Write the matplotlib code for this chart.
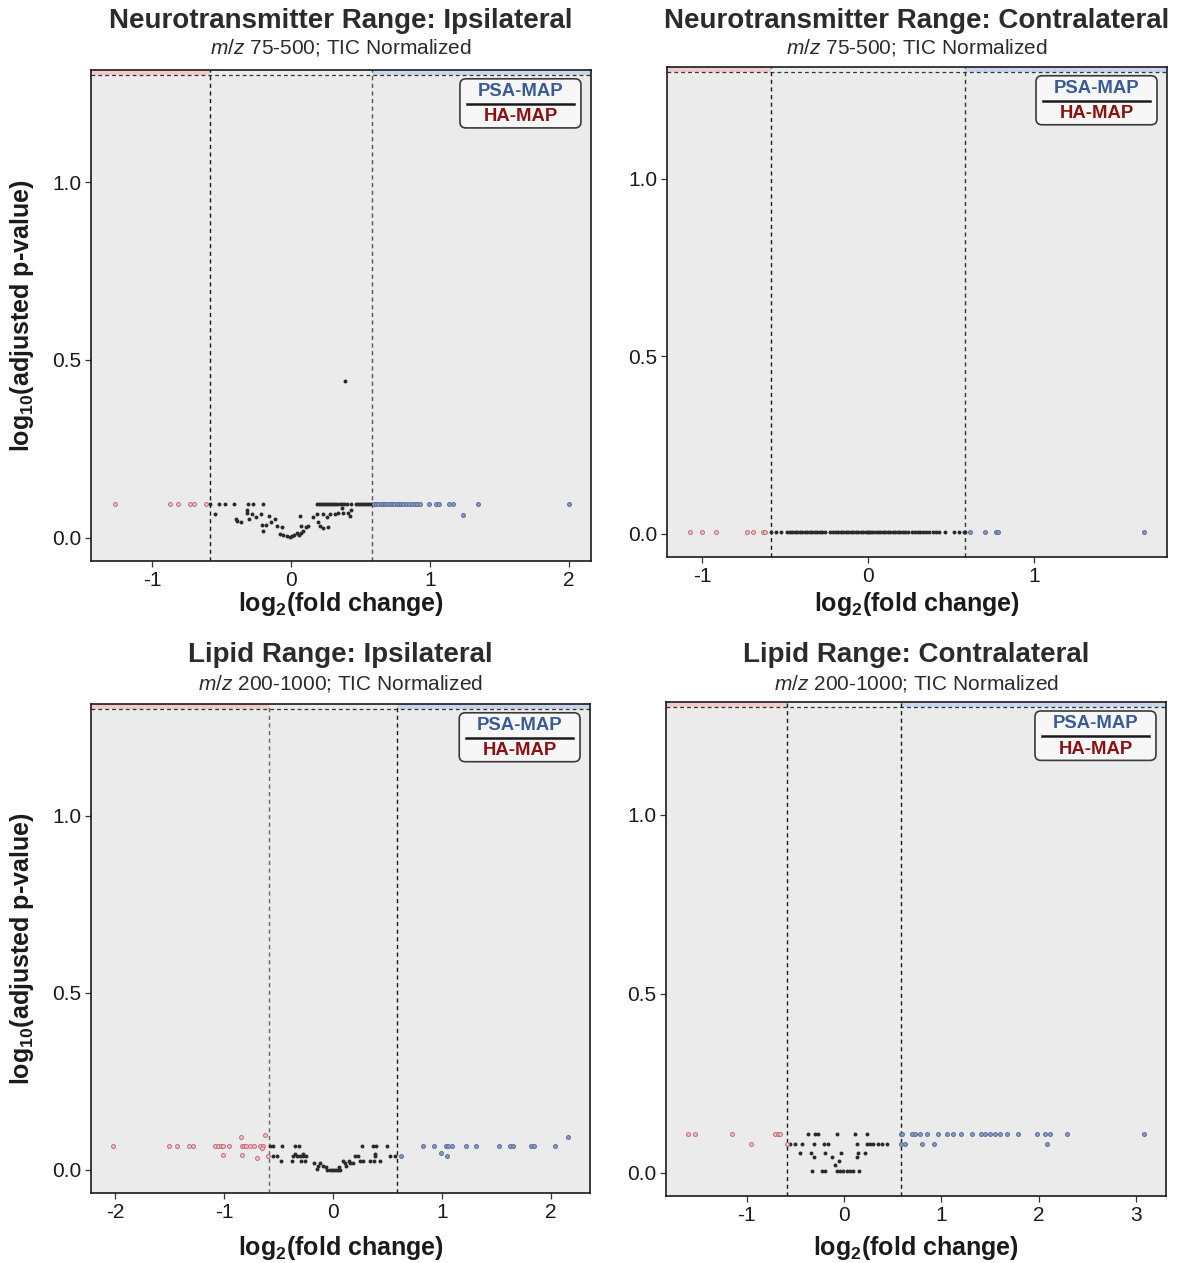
import matplotlib
matplotlib.use("Agg")
import matplotlib.pyplot as plt
import numpy as np
from matplotlib.patches import FancyBboxPatch, Rectangle

plt.rcParams["font.family"] = ["Liberation Sans", "DejaVu Sans"]
plt.rcParams["mathtext.fontset"] = "custom"
plt.rcParams["mathtext.rm"] = "Liberation Sans"
plt.rcParams["mathtext.it"] = "Liberation Sans:italic"
plt.rcParams["mathtext.bf"] = "Liberation Sans:bold"

# ---- data (log2 fold change, -log10 adjusted p) ----
titles = [
    "Neurotransmitter Range: Ipsilateral",
    "Neurotransmitter Range: Contralateral",
    "Lipid Range: Ipsilateral",
    "Lipid Range: Contralateral",
]
subtitles = [
    r"$\mathit{m/z}$ 75-500; TIC Normalized",
    r"$\mathit{m/z}$ 75-500; TIC Normalized",
    r"$\mathit{m/z}$ 200-1000; TIC Normalized",
    r"$\mathit{m/z}$ 200-1000; TIC Normalized",
]

# Neurotransmitter, ipsilateral
nt_ipsi_row_x = [
    -1.27, -0.87, -0.81, -0.73, -0.70, -0.61,
    -0.58, -0.52, -0.475, -0.41, -0.31, -0.27, -0.20,
    0.185, 0.20, 0.215, 0.23, 0.245, 0.26, 0.275, 0.29, 0.305, 0.32, 0.335,
    0.35, 0.365, 0.38, 0.40, 0.43, 0.465, 0.48, 0.495, 0.51, 0.525, 0.54,
    0.555, 0.57, 0.58,
    0.60, 0.615, 0.63, 0.645, 0.66, 0.675, 0.69, 0.71, 0.725, 0.74, 0.76,
    0.775, 0.79, 0.81, 0.83, 0.85, 0.87, 0.89, 0.91, 0.93,
    0.995, 1.045, 1.065, 1.14, 1.17, 1.35, 2.00,
]
nt_ipsi_row_y = 0.094
nt_ipsi_x = [
    -0.547, -0.396, -0.391, -0.360, -0.319, -0.314, -0.300, -0.283, -0.252,
    -0.218, -0.211, -0.199, -0.180, -0.156, -0.144, -0.115, -0.098, -0.079,
    -0.067, -0.055, -0.031, -0.007, 0.005, 0.022, 0.041, 0.060, 0.065, 0.070,
    0.072, 0.089, 0.108, 0.125, 0.156, 0.185, 0.197, 0.209, 0.228, 0.233,
    0.269, 0.261, 0.281, 0.317, 0.341, 0.365, 0.372, 0.412, 0.424, 0.429,
    0.388, 1.24,
]
nt_ipsi_y = [
    0.066, 0.052, 0.047, 0.046, 0.077, 0.069, 0.052, 0.066, 0.060,
    0.066, 0.037, 0.018, 0.037, 0.062, 0.046, 0.054, 0.034, 0.011,
    0.032, 0.008, 0.006, 0.002, 0.004, 0.008, 0.013, 0.008, 0.062, 0.015,
    0.034, 0.018, 0.030, 0.034, 0.058, 0.066, 0.046, 0.034, 0.027, 0.066,
    0.030, 0.060, 0.066, 0.066, 0.069, 0.083, 0.069, 0.069, 0.062, 0.077,
    0.441, 0.065,
]

# Neurotransmitter, contralateral (all on one row)
nt_contra_x = [
    -1.07, -1.00, -0.915, -0.73, -0.69, -0.635, -0.62,
    -0.583, -0.553, -0.527, -0.488, -0.47, -0.455, -0.44, -0.425, -0.41,
    -0.395, -0.38, -0.365, -0.35, -0.335, -0.32, -0.305, -0.29, -0.275,
    -0.26, -0.227, -0.21, -0.195, -0.18, -0.165, -0.15, -0.135, -0.12,
    -0.105, -0.09, -0.075, -0.06, -0.045, -0.03, -0.015, 0.0, 0.005, 0.015,
    0.03, 0.045, 0.06, 0.075, 0.09, 0.105, 0.12, 0.135, 0.15, 0.165, 0.18,
    0.195, 0.21, 0.225, 0.24, 0.262, 0.285, 0.30, 0.315, 0.33, 0.35, 0.37,
    0.39, 0.41, 0.43, 0.462, 0.519, 0.547, 0.575, 0.583,
    0.613, 0.703, 0.769, 0.783, 1.659,
]
nt_contra_row_y = 0.005

# Lipid, ipsilateral
lip_ipsi_row_x = [
    -2.015, -1.502, -1.435, -1.321, -1.282, -1.083, -1.052, -1.028, -1.006,
    -0.951, -0.838, -0.817, -0.798, -0.761, -0.725, -0.670, -0.645,
    -0.58, -0.553, -0.471, -0.349, -0.309, 0.272, 0.364, 0.394, 0.498,
    0.823, 0.930, 1.037, 1.058, 1.089, 1.226, 1.318, 1.526, 1.630, 1.654,
    1.823, 1.847, 2.037,
]
lip_ipsi_row_y = 0.067
lip_ipsi_x = [
    -0.844, -0.624, -1.012, -0.838, -0.700, -0.654,
    -0.593, -0.553, -0.511, -0.370, -0.327, -0.303, -0.272, -0.242, 0.202,
    0.232, 0.385, 0.523, 0.569,
    -0.352, -0.272, 0.385,
    -0.480, -0.379, -0.297, -0.257, 0.095, 0.150, 0.248, 0.279, 0.339,
    0.376, 0.437,
    -0.174, -0.119, -0.089, -0.135, -0.150, 0.110, 0.156, 0.187, 0.125,
    -0.05, -0.03, -0.01, 0.01, 0.03, 0.05, 0.07, -0.06, 0.06,
    0.991, 1.049, 0.621, 2.159,
]
lip_ipsi_y = [
    0.094, 0.098, 0.042, 0.042, 0.033, 0.063,
    0.039, 0.039, 0.039, 0.039, 0.039, 0.039, 0.039, 0.039, 0.039,
    0.039, 0.039, 0.039, 0.039,
    0.046, 0.046, 0.046,
    0.024, 0.024, 0.024, 0.024, 0.024, 0.024, 0.024, 0.024, 0.024,
    0.024, 0.024,
    0.020, 0.020, 0.012, 0.012, 0.003, 0.020, 0.020, 0.020, 0.012,
    0.0, 0.0, 0.0, 0.0, 0.0, 0.0, 0.0, 0.008, 0.008,
    0.048, 0.040, 0.039, 0.094,
]

# Lipid, contralateral
lip_contra_x = [
    -1.600, -1.531, -1.154, -0.709, -0.682, -0.658, -0.956,
    -0.373, -0.298, -0.271, -0.075, 0.113, 0.233, 0.586,
    -0.589, -0.555, -0.504, -0.428, -0.305, -0.202, -0.161, 0.130, 0.233,
    0.267, 0.301, 0.353, 0.394, 0.439, 0.586,
    -0.452, -0.339, -0.195, -0.031, 0.147, 0.216,
    -0.305, -0.127, 0.130, -0.051, -0.092,
    -0.332, -0.230, -0.195, -0.075, -0.041, -0.007, 0.027, 0.062, 0.096, 0.154,
    0.600, 0.696, 0.730, 0.781, 0.850, 0.963, 1.055, 1.124, 1.202, 1.312,
    1.408, 1.449, 1.500, 1.552, 1.603, 1.672, 1.792, 1.980, 2.066, 2.117,
    2.288, 3.083,
    0.627, 0.798, 0.928, 2.090,
]
lip_contra_y = [
    0.108, 0.108, 0.108, 0.108, 0.108, 0.108, 0.081,
    0.108, 0.108, 0.108, 0.108, 0.108, 0.108, 0.108,
    0.081, 0.081, 0.081, 0.081, 0.081, 0.081, 0.081, 0.081, 0.081,
    0.081, 0.081, 0.081, 0.081, 0.081, 0.081,
    0.056, 0.056, 0.056, 0.056, 0.056, 0.056,
    0.044, 0.044, 0.044, 0.032, 0.021,
    0.004, 0.004, 0.004, 0.004, 0.004, 0.004, 0.004, 0.004, 0.004, 0.004,
    0.108, 0.108, 0.108, 0.108, 0.108, 0.108, 0.108, 0.108, 0.108, 0.108,
    0.108, 0.108, 0.108, 0.108, 0.108, 0.108, 0.108, 0.108, 0.108, 0.108,
    0.108, 0.108,
    0.081, 0.081, 0.081, 0.081,
]

panel_x = [
    nt_ipsi_row_x + nt_ipsi_x,
    nt_contra_x,
    lip_ipsi_row_x + lip_ipsi_x,
    lip_contra_x,
]
panel_y = [
    [nt_ipsi_row_y] * len(nt_ipsi_row_x) + nt_ipsi_y,
    [nt_contra_row_y] * len(nt_contra_x),
    [lip_ipsi_row_y] * len(lip_ipsi_row_x) + lip_ipsi_y,
    lip_contra_y,
]
x_ticks = [[-1, 0, 1, 2], [-1, 0, 1], [-2, -1, 0, 1, 2], [-1, 0, 1, 2, 3]]
x_limits = [(-1.44, 2.16), (-1.21, 1.80), (-2.22, 2.36), (-1.83, 3.31)]

fc_cut = np.log2(1.5)
p_cut = -np.log10(0.05)

# ---- layout ----
axes_pos = [
    [0.0771, 0.5558, 0.4237, 0.3888],
    [0.5653, 0.5590, 0.4237, 0.3880],
    [0.0771, 0.0554, 0.4229, 0.3872],
    [0.5644, 0.0530, 0.4237, 0.3911],
]
title_fig_y = [1 - 21 / 1263, 1 - 21 / 1263, 1 - 655 / 1263, 1 - 655 / 1263]
subtitle_fig_y = [1 - 48 / 1263, 1 - 48 / 1263, 1 - 683 / 1263, 1 - 683 / 1263]
xlabel_y = [-0.088, -0.096, -0.112, -0.105]
vline_colors = [("#1a1a1a", "#555555"), ("#1a1a1a", "#333333"),
                ("#666666", "#1a1a1a"), ("#1a1a1a", "#1a1a1a")]

fig = plt.figure(figsize=(11.8, 12.63), dpi=100)

for i in range(4):
    ax = fig.add_axes(axes_pos[i])
    ax.set_facecolor("#EBEBEB")
    x = np.array(panel_x[i])
    y = np.array(panel_y[i])
    xmin, xmax = x_limits[i]
    ax.set_xlim(xmin, xmax)
    ax.set_ylim(-0.065, 1.315)

    # significance regions
    ax.add_patch(Rectangle((xmin, p_cut), -fc_cut - xmin, 0.1,
                           facecolor="#F2C9CC", edgecolor="none", zorder=0.5))
    ax.add_patch(Rectangle((fc_cut, p_cut), xmax - fc_cut, 0.1,
                           facecolor="#C9D5EC", edgecolor="none", zorder=0.5))
    ax.axhline(p_cut, color="#333333", lw=0.9, ls=(0, (3, 2.5)), zorder=1)
    ax.axvline(-fc_cut, color=vline_colors[i][0], lw=1.0, ls=(0, (3, 2.5)), zorder=1)
    ax.axvline(fc_cut, color=vline_colors[i][1], lw=1.0, ls=(0, (3, 2.5)), zorder=1)

    left = x < -fc_cut
    right = x > fc_cut
    mid = ~(left | right)
    ax.scatter(x[mid], y[mid], s=8, color="#2a2a2a", linewidths=0, zorder=3)
    ax.scatter(x[left], y[left], s=8, facecolor="#EFC3C7", edgecolor="#C46B76",
               linewidths=0.7, zorder=3)
    ax.scatter(x[right], y[right], s=8, facecolor="#8A9BC0", edgecolor="#5A6F9C",
               linewidths=0.7, zorder=3)

    ax.set_xticks(x_ticks[i])
    ax.set_xticklabels([str(t) for t in x_ticks[i]])
    ax.set_yticks([0.0, 0.5, 1.0])
    ax.set_yticklabels(["0.0", "0.5", "1.0"])
    ax.tick_params(labelsize=15, colors="#333333", labelcolor="#1a1a1a",
                   length=4.5, width=0.9, pad=2.5)
    for sp in ax.spines.values():
        sp.set_color("#1a1a1a")
        sp.set_linewidth(1.2)

    ax.set_xlabel(r"log$_\mathbf{2}$(fold change)", fontsize=18,
                  fontweight="bold", color="#1a1a1a")
    ax.xaxis.label.set_va("center")
    ax.xaxis.set_label_coords(0.5, xlabel_y[i])
    if i in (0, 2):
        ax.set_ylabel(r"log$_\mathbf{10}$(adjusted p-value)", fontsize=18,
                      fontweight="bold", color="#1a1a1a")
        ax.yaxis.label.set_va("center")
        ax.yaxis.set_label_coords(-0.138, 0.5)

    cx = axes_pos[i][0] + axes_pos[i][2] / 2
    fig.text(cx, title_fig_y[i], titles[i], ha="center", va="center",
             fontsize=20, fontweight="bold", color="#2b2b2b")
    fig.text(cx, subtitle_fig_y[i], subtitles[i], ha="center", va="center",
             fontsize=15, color="#2b2b2b")

    # legend box
    box = FancyBboxPatch((0.738, 0.882), 0.242, 0.100,
                         boxstyle="round,pad=0,rounding_size=0.012",
                         transform=ax.transAxes, facecolor="#F7F7F7",
                         edgecolor="#3a3a3a", lw=1.2, zorder=5)
    ax.add_patch(box)
    ax.text(0.859, 0.957, "PSA-MAP", transform=ax.transAxes, ha="center",
            va="center", fontsize=13.3, fontweight="bold", color="#3A5A95",
            zorder=6)
    ax.plot([0.752, 0.966], [0.931, 0.931], transform=ax.transAxes,
            color="#1a1a1a", lw=1.8, zorder=6)
    ax.text(0.859, 0.905, "HA-MAP", transform=ax.transAxes, ha="center",
            va="center", fontsize=13.3, fontweight="bold", color="#8B1010",
            zorder=6)

fig.savefig("out.png", dpi=100)
